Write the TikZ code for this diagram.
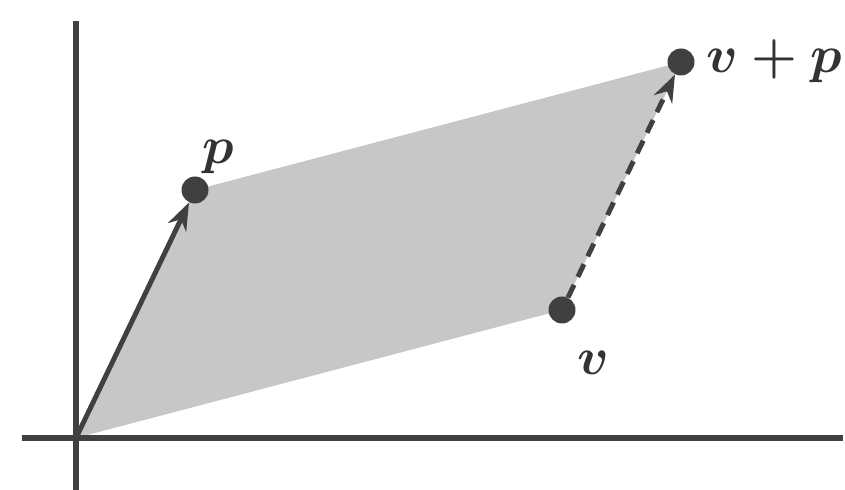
\documentclass[tikz,border=0pt]{standalone}
\usepackage{amsmath,amssymb}
\usepackage{tikz}
\usetikzlibrary{arrows.meta,positioning,calc}
\newcommand{\biglbl}[1]{\scalebox{1.2}{$\boldsymbol{#1}$}}

\begin{document}
\begin{tikzpicture}[
  axis/.style={draw=black!75, line width=3.2pt},
  dot/.style={circle, fill=black!75, inner sep=0pt, minimum size=0.54cm},
  vec/.style={draw=black!75, line width=2.8pt, -{Stealth[length=0.55cm, width=0.4cm]}},
  lbl/.style={inner sep=0pt, text=black!80, font=\fontsize{24.88}{30}\selectfont}
]
  \useasboundingbox (-1.52,-1.04) rectangle (15.38,8.76);
  % parallelogram
  \coordinate (o) at (0,0);
  \fill[black!22] (o) -- (2.38,4.96) -- (12.1,7.52) -- (9.72,2.56) -- cycle;
  % axes
  \draw[axis] (0,-1.04) -- (0,8.34);
  \draw[axis] (-1.08,0) -- (15.34,0);
  % points
  \node[dot] (p) at (2.38,4.96) {};
  \node[dot] (v) at (9.72,2.56) {};
  \node[dot] (vp) at (12.1,7.52) {};
  \draw[vec] (o) -- (p);
  \draw[vec, dash pattern=on 8pt off 5pt] (v) -- (vp);
  \node[lbl] at (2.84,5.62) {\biglbl{p}};
  \node[lbl] at (10.34,1.5) {\biglbl{v}};
  \node[lbl, anchor=west] at (12.6,7.54) {\biglbl{v+p}};
\end{tikzpicture}
\end{document}
